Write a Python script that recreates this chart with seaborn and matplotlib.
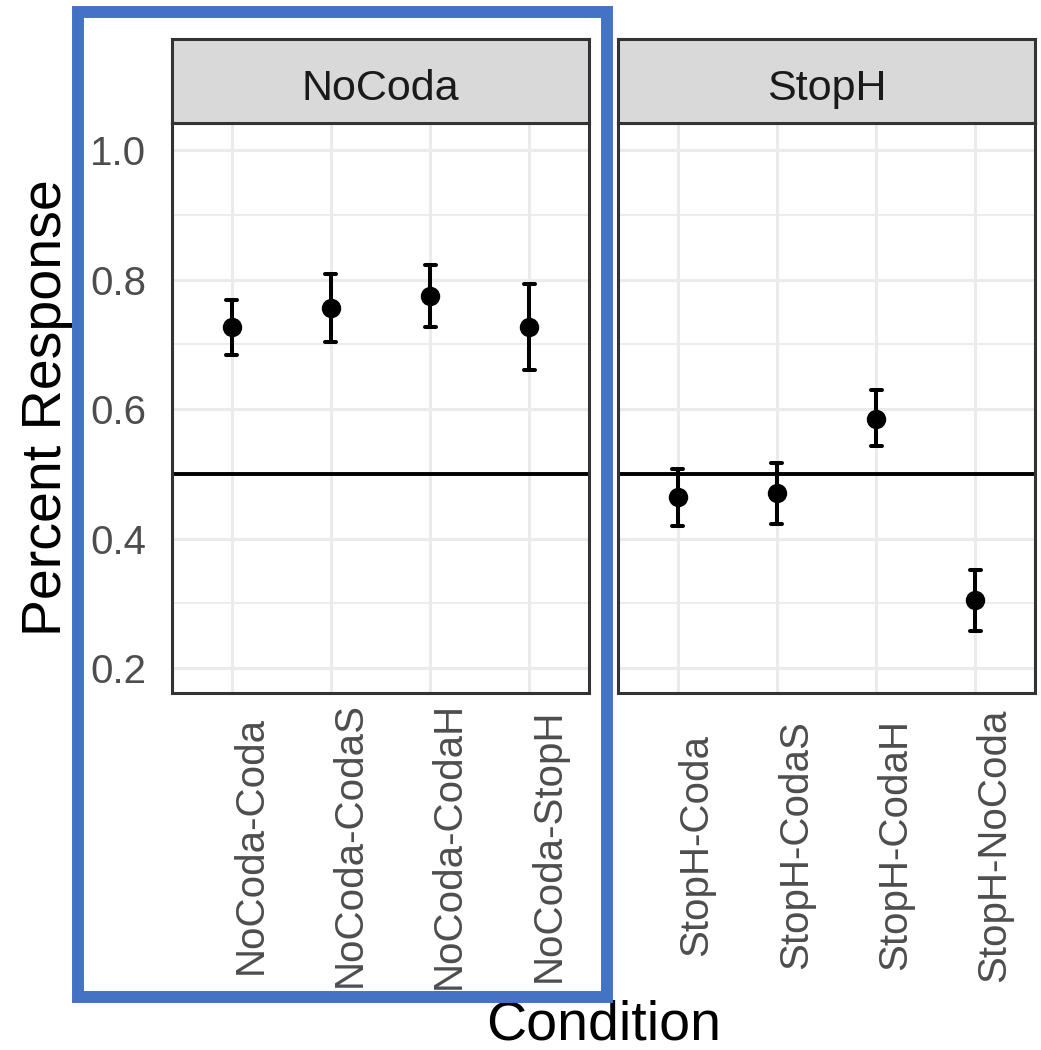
import numpy as np
import pandas as pd
import seaborn as sns
import matplotlib.pyplot as plt
from matplotlib.patches import Rectangle
from matplotlib.ticker import MultipleLocator

# values
nocoda_conditions = ["NoCoda-Coda", "NoCoda-CodaS", "NoCoda-CodaH", "NoCoda-StopH"]
nocoda_mean = [0.727, 0.756, 0.775, 0.727]
nocoda_lower = [0.684, 0.703, 0.727, 0.661]
nocoda_upper = [0.769, 0.808, 0.822, 0.793]

stoph_conditions = ["StopH-Coda", "StopH-CodaS", "StopH-CodaH", "StopH-NoCoda"]
stoph_mean = [0.464, 0.471, 0.585, 0.305]
stoph_lower = [0.420, 0.423, 0.543, 0.257]
stoph_upper = [0.507, 0.517, 0.629, 0.352]

y_ticks = [0.2, 0.4, 0.6, 0.8, 1.0]
y_ticklabels = ["0.2", "0.4", "0.6", "0.8", "1.0"]
chance = 0.5

sns.set_style("white")
plt.rcParams['font.family'] = ['Liberation Sans', 'DejaVu Sans']


def long_table(conds, lower, mean, upper):
    # three rows per condition: median = estimate, min/max = interval ends
    rows = []
    for c, lo, m, hi in zip(conds, lower, mean, upper):
        for v in (lo, m, hi):
            rows.append({"condition": c, "value": v})
    return pd.DataFrame(rows)


panels = [
    ("NoCoda", long_table(nocoda_conditions, nocoda_lower, nocoda_mean, nocoda_upper), nocoda_conditions),
    ("StopH", long_table(stoph_conditions, stoph_lower, stoph_mean, stoph_upper), stoph_conditions),
]

W, H = 1041, 1050
fig = plt.figure(figsize=(W / 100, H / 100), dpi=100)

lefts = [172, 618]
pw = 417
top, bottom, strip_top = 123, 693, 39
border = "#333333"

for i, (name, df, order) in enumerate(panels):
    ax = fig.add_axes([lefts[i] / W, 1 - bottom / H, pw / W, (bottom - top) / H])
    sns.pointplot(data=df, x="condition", y="value", order=order,
                  estimator="median", errorbar=("pi", 100),
                  color="black", linestyle="none", markersize=14,
                  markeredgewidth=0, capsize=0.11,
                  err_kws={"linewidth": 2.9}, ax=ax)
    ax.axhline(chance, color="black", lw=2.8, zorder=1.8)

    ax.set_xlim(-0.6, 3.6)
    ax.set_ylim(0.1614, 1.0417)
    ax.yaxis.set_major_locator(MultipleLocator(0.2))
    ax.yaxis.set_minor_locator(MultipleLocator(0.1))
    ax.set_axisbelow(True)
    ax.grid(which="major", color="#EBEBEB", lw=2.2)
    ax.grid(which="minor", axis="y", color="#EBEBEB", lw=1.3)
    ax.set_xlabel("")
    ax.set_ylabel("")

    ax.set_xticks(range(len(order)))
    ax.set_xticklabels(order, rotation=90, ha="left", va="center",
                       fontsize=29, color="#4D4D4D")
    ax.tick_params(axis="x", direction="out", length=9.4, width=2.4,
                   color=border, pad=100)
    ax.tick_params(axis="y", which="minor", length=0)
    if i == 0:
        ax.set_yticks(y_ticks)
        ax.set_yticklabels(y_ticklabels, fontsize=29, color="#4D4D4D")
        ax.tick_params(axis="y", which="major", direction="out", length=9.4,
                       width=2.4, color=border, pad=9)
    else:
        ax.set_yticks(y_ticks)
        ax.tick_params(axis="y", which="major", length=0, labelleft=False)
    for s in ax.spines.values():
        s.set_color(border)
        s.set_linewidth(2.2)

    # facet strip
    sax = fig.add_axes([lefts[i] / W, 1 - top / H, pw / W, (top - strip_top) / H])
    sax.set_facecolor("#D9D9D9")
    sax.set_xticks([])
    sax.set_yticks([])
    for s in sax.spines.values():
        s.set_color(border)
        s.set_linewidth(2.2)
    sax.text(0.5, (top - 100) / (top - strip_top), name, transform=sax.transAxes,
             ha="center", va="baseline", fontsize=31, color="#1A1A1A")

fig.text(47 / W, 1 - 408 / H, "Percent Response", rotation=90,
         ha="center", va="center", fontsize=40, color="black")
fig.text(604 / W, 1 - 1039 / H, "Condition", ha="center", va="baseline",
         fontsize=40, color="black")

# blue highlight box round the first panel
fig.add_artist(Rectangle((78 / W, 1 - 997 / H), (607 - 78) / W, (997 - 12) / H,
                         transform=fig.transFigure, fill=False,
                         edgecolor="#4472C4", lw=8.6, joinstyle="miter", zorder=10))

fig.savefig("out.png", dpi=100)
